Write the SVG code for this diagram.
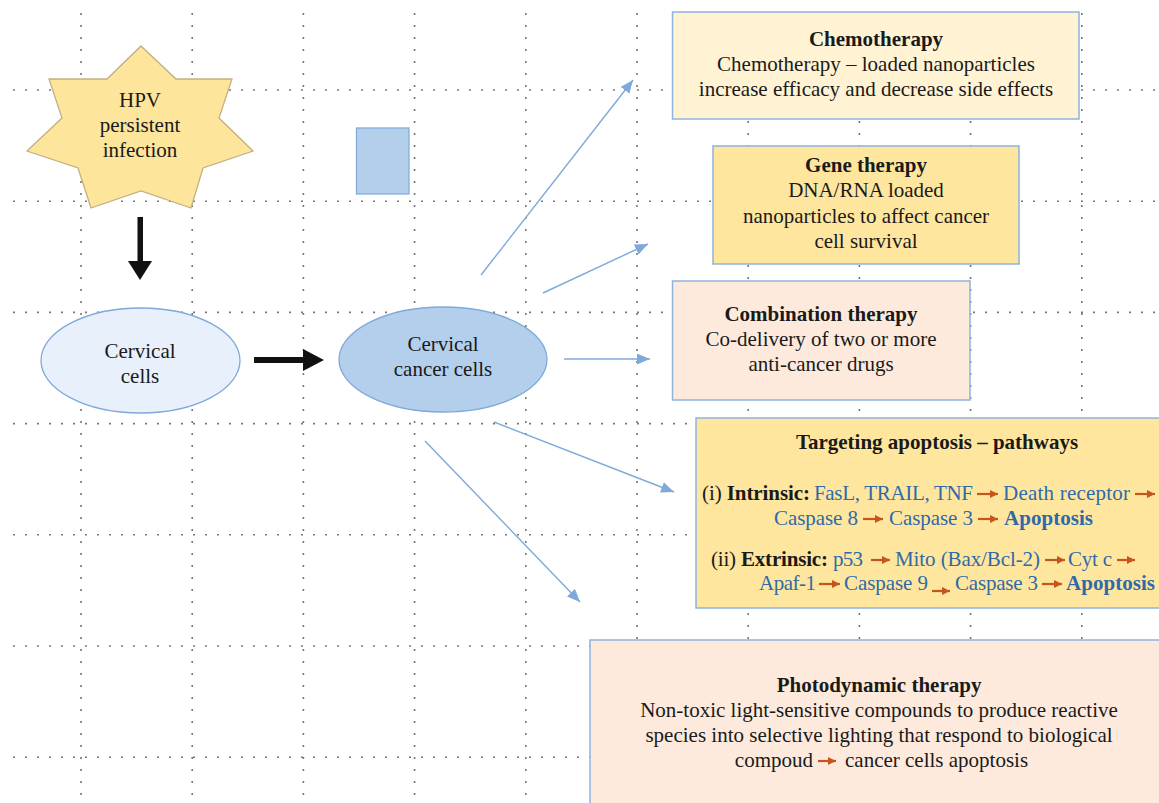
<svg xmlns="http://www.w3.org/2000/svg" width="1159" height="803" viewBox="0 0 1159 803">
<style>
.grid{stroke:#777;stroke-width:1.6;stroke-dasharray:2 10;fill:none}
.t{font-family:"Liberation Serif","Times New Roman",serif;font-size:21px;fill:#1a1a1a}
.c{text-anchor:middle}
.b{font-weight:bold}
.bl{fill:#2f6aa8}
.box{stroke:#8db3df;stroke-width:1.5}
.conn{stroke:#7ea9d9;stroke-width:1.4;fill:none}
.oa{stroke:#c4561c;stroke-width:2.2;fill:none}
</style>
<defs>
<marker id="ah" markerUnits="userSpaceOnUse" markerWidth="14" markerHeight="12" refX="13" refY="5.5" orient="auto">
<path d="M0,0 L13,5.5 L0,11 z" fill="#7ea9d9"/>
</marker>
<marker id="oh" markerUnits="userSpaceOnUse" markerWidth="9" markerHeight="8" refX="8" refY="4" orient="auto">
<path d="M0,0 L8,4 L0,8 z" fill="#c4561c"/>
</marker>
</defs>
<rect width="1159" height="803" fill="#fff"/>
<g id="grid">
<path class="grid" d="M13,90H1159M13,201.2H1159M13,312.4H1159M13,423.6H1159M13,534.8H1159M13,646H1159M13,757.2H1159"/>
<path class="grid" d="M81,13V803M192.2,13V803M303.4,13V803M414.6,13V803M525.8,13V803M637,13V803M748.2,13V803M859.4,13V803M970.6,13V803M1081.8,13V803"/>
</g>
<g id="connectors">
<rect x="137.5" y="217" width="5.5" height="45" fill="#111"/>
<polygon points="128,261 152,261 140,280" fill="#111"/>
<rect x="254" y="357" width="51" height="6" fill="#111"/>
<polygon points="303,349 324,360 303,371" fill="#111"/>
<line class="conn" x1="481" y1="275" x2="633" y2="80" marker-end="url(#ah)"/>
<line class="conn" x1="543" y1="293" x2="648" y2="244" marker-end="url(#ah)"/>
<line class="conn" x1="564" y1="359" x2="650" y2="359" marker-end="url(#ah)"/>
<line class="conn" x1="494" y1="422" x2="674" y2="492" marker-end="url(#ah)"/>
<line class="conn" x1="425" y1="441" x2="580" y2="602" marker-end="url(#ah)"/>
</g>
<g id="hpv">
<polygon points="141,46 176,79 232,79 219,118 253,151 203,168 191,208 141,191 91,208 78,168 27,151 62,118 49,79 107,79" fill="#fde59c" stroke="#c2b080" stroke-width="1.3"/>
<text class="t c" x="140" y="107">HPV</text>
<text class="t c" x="140" y="132">persistent</text>
<text class="t c" x="140" y="157">infection</text>
</g>
<g id="bluerect">
<rect x="356.5" y="128" width="52.5" height="66" fill="#b4cfec" stroke="#85acd9" stroke-width="1.3"/>
</g>
<g id="cervical">
<ellipse cx="140.5" cy="360.5" rx="99.5" ry="52.5" fill="#e8f1fb" stroke="#7ea9d9" stroke-width="1.3"/>
<text class="t c" x="140" y="358">Cervical</text>
<text class="t c" x="140" y="383">cells</text>
</g>
<g id="cancer">
<ellipse cx="443" cy="359.5" rx="104" ry="52.5" fill="#b4cfec" stroke="#7ea9d9" stroke-width="1.3"/>
<text class="t c" x="443" y="351">Cervical</text>
<text class="t c" x="443" y="376">cancer cells</text>
</g>
<g id="chemo">
<rect class="box" x="672.5" y="12" width="406.5" height="107" fill="#fff3d4"/>
<text class="t c b" x="876" y="46">Chemotherapy</text>
<text class="t c" x="876" y="71">Chemotherapy – loaded nanoparticles</text>
<text class="t c" x="876" y="96">increase efficacy and decrease side effects</text>
</g>
<g id="gene">
<rect class="box" x="713" y="146" width="306" height="118" fill="#ffe69e"/>
<text class="t c b" x="866" y="172">Gene therapy</text>
<text class="t c" x="866" y="197">DNA/RNA loaded</text>
<text class="t c" x="866" y="223">nanoparticles to affect cancer</text>
<text class="t c" x="866" y="248">cell survival</text>
</g>
<g id="combination">
<rect class="box" x="672.5" y="281" width="297.5" height="119" fill="#fdeadc"/>
<text class="t c b" x="821" y="321">Combination therapy</text>
<text class="t c" x="821" y="346">Co-delivery of two or more</text>
<text class="t c" x="821" y="371">anti-cancer drugs</text>
</g>
<g id="apoptosis">
<rect class="box" x="696" y="418" width="470" height="190" fill="#ffe69e"/>
<text class="t c b" x="937" y="449">Targeting apoptosis – pathways</text>
<text class="t" x="702" y="500" textLength="108">(i) <tspan class="b">Intrinsic:</tspan></text>
<text class="t bl" x="814" y="500" textLength="159">FasL, TRAIL, TNF</text>
<line class="oa" x1="977" y1="494" x2="998" y2="494" marker-end="url(#oh)"/>
<text class="t bl" x="1003" y="500" textLength="127">Death receptor</text>
<line class="oa" x1="1135" y1="494" x2="1155" y2="494" marker-end="url(#oh)"/>
<text class="t bl" x="774" y="525" textLength="84">Caspase 8</text>
<line class="oa" x1="863" y1="519" x2="883" y2="519" marker-end="url(#oh)"/>
<text class="t bl" x="889" y="525" textLength="84">Caspase 3</text>
<line class="oa" x1="978" y1="519" x2="998" y2="519" marker-end="url(#oh)"/>
<text class="t bl b" x="1004" y="525" textLength="89">Apoptosis</text>
<text class="t" x="711" y="566" textLength="117">(ii) <tspan class="b">Extrinsic:</tspan></text>
<text class="t bl" x="833" y="566" textLength="30">p53</text>
<line class="oa" x1="871" y1="560" x2="890" y2="560" marker-end="url(#oh)"/>
<text class="t bl" x="895" y="566" textLength="145">Mito (Bax/Bcl-2)</text>
<line class="oa" x1="1045" y1="560" x2="1065" y2="560" marker-end="url(#oh)"/>
<text class="t bl" x="1068" y="566" textLength="44">Cyt c</text>
<line class="oa" x1="1117" y1="560" x2="1135" y2="560" marker-end="url(#oh)"/>
<text class="t bl" x="759" y="590" textLength="57">Apaf-1</text>
<line class="oa" x1="819" y1="584" x2="840" y2="584" marker-end="url(#oh)"/>
<text class="t bl" x="844" y="590" textLength="84">Caspase 9</text>
<line class="oa" x1="932" y1="591" x2="950" y2="591" marker-end="url(#oh)"/>
<text class="t bl" x="955" y="590" textLength="83">Caspase 3</text>
<line class="oa" x1="1042" y1="584" x2="1062" y2="584" marker-end="url(#oh)"/>
<text class="t bl b" x="1066" y="590" textLength="89">Apoptosis</text>
</g>
<g id="photodynamic">
<rect class="box" x="590" y="640" width="580" height="175" fill="#fdeadc"/>
<text class="t c b" x="879" y="692">Photodynamic therapy</text>
<text class="t c" x="879" y="717">Non-toxic light-sensitive compounds to produce reactive</text>
<text class="t c" x="879" y="742">species into selective lighting that respond to biological</text>
<text class="t" x="813" y="767" text-anchor="end">compoud</text>
<line class="oa" x1="818" y1="761" x2="836" y2="761" marker-end="url(#oh)"/>
<text class="t" x="845" y="767">cancer cells apoptosis</text>
</g>
</svg>
